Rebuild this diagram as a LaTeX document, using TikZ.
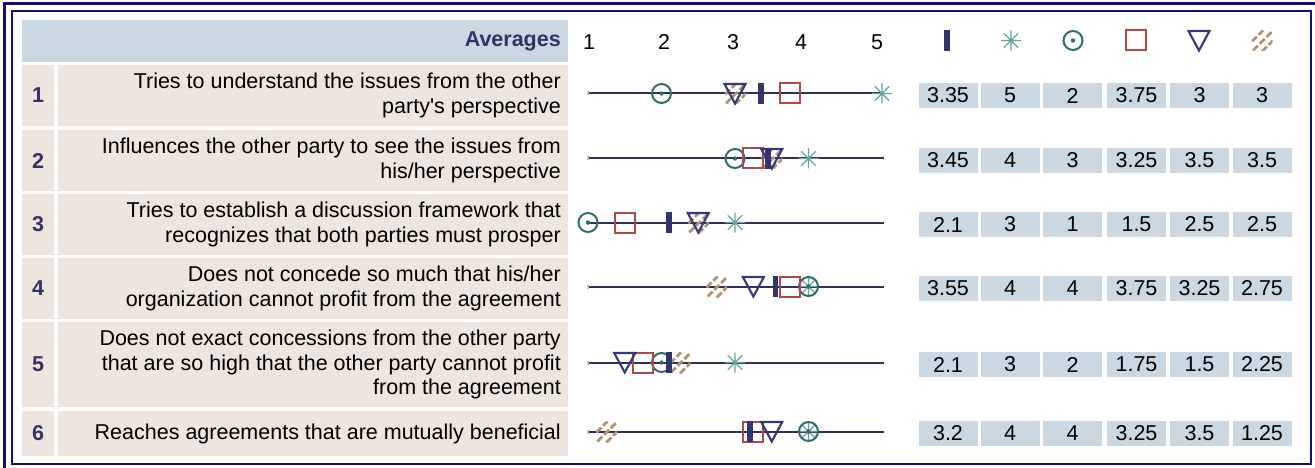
\documentclass[tikz,border=0pt]{standalone}
\usepackage{fontspec}
\setmainfont{Liberation Sans}
\definecolor{frame}{RGB}{16,16,112}
\definecolor{hdr}{RGB}{201,216,226}
\definecolor{beige}{RGB}{237,229,222}
\definecolor{navytxt}{RGB}{51,51,102}
\definecolor{rline}{RGB}{48,48,84}
\definecolor{cbar}{RGB}{51,51,110}
\definecolor{cast}{RGB}{100,165,160}
\definecolor{ccirc}{RGB}{48,110,104}
\definecolor{csq}{RGB}{176,72,72}
\definecolor{ctri}{RGB}{56,56,120}
\definecolor{chat}{RGB}{180,148,112}
\newcommand\plotrow[7]{%
  \draw[rline,line width=2] (588,#1) -- (884,#1);
  \fill[cast!60] (587,#1-2) rectangle (589,#1+2);
  \pic at ({588+(#7-1)*73.5},#1) {mkhatch};
  \pic at ({588+(#3-1)*73.5},#1) {mkast};
  \pic at ({588+(#4-1)*73.5},#1) {mkcirc};
  \pic at ({588+(#5-1)*73.5},#1) {mksq};
  \pic at ({588+(#6-1)*73.5},#1) {mktri};
  \pic at ({588+(#2-1)*73.5},#1) {mkbar};
}
\tikzset{
  mkbar/.pic={\fill[cbar] (-2.8,-10.5) rectangle (2.8,10.5);},
  mkast/.pic={\draw[cast,line width=1.3] (-10,0)--(10,0) (0,-10)--(0,10) (-7.2,-7.2)--(7.2,7.2) (-7.2,7.2)--(7.2,-7.2);},
  mkcirc/.pic={\draw[ccirc,line width=2] (0,0) circle[radius=9.5]; \fill[ccirc] (0,0) circle[radius=2.2];},
  mksq/.pic={\draw[csq,line width=2] (-10,-10) rectangle (10,10);},
  mktri/.pic={\draw[ctri,line width=2.1,line join=miter] (-10.5,-9.5) -- (10.5,-9.5) -- (0,10) -- cycle;},
  mkhatch/.pic={\begin{scope}\clip (-10.5,-10.5) rectangle (10.5,10.5);
     \draw[chat,line width=2.8,dash pattern=on 7 off 2.5] (-10,1)--(1,-10) (-9,10)--(10,-9) (0,11)--(11,0);\end{scope}},
  txt/.style={font=\fontsize{21.5}{24.7}\selectfont,inner sep=0},
  rowtxt/.style={txt,anchor=east,align=right,text=black},
  numtxt/.style={txt,font=\fontsize{21.5}{24.7}\selectfont\bfseries,text=navytxt},
  vbox/.style={txt,fill=hdr,minimum width=59pt,minimum height=25pt,text=black},
  scl/.style={txt,text=black},
}
\begin{document}
\begin{tikzpicture}[x=1pt,y=-1pt]
\useasboundingbox (0,0) rectangle (1315,468);
\fill[white] (0,0) rectangle (1315,468);
% frame
\draw[frame,line width=3] (4.5,470) -- (4.5,3.5) -- (1317,3.5);
\draw[frame,line width=2] (12,11) rectangle (1311,464);
% header
\fill[hdr] (22,20) rectangle (568,62);
\node[numtxt,anchor=east] (avg) at (561,41.5) {Averages};
\node[scl] (s1) at (589,42) {1};
\node[scl] (s2) at (664,42) {2};
\node[scl] (s3) at (733,42) {3};
\node[scl] (s4) at (801,42) {4};
\node[scl] (s5) at (877,42) {5};
\pic at (947,40.5) {mkbar};
\pic at (1011,40.5) {mkast};
\pic at (1073,40.5) {mkcirc};
\pic at (1136,40.5) {mksq};
\pic at (1199,40.5) {mktri};
\pic at (1262,40.5) {mkhatch};
% row cells
\foreach \ya/\yb in {65/126,130/191,194/255,258/319,322/407,411/456}{
  \fill[beige] (22,\ya) rectangle (54,\yb);
  \fill[beige] (58,\ya) rectangle (568,\yb);
}
\node[numtxt] (n1) at (38,95.5) {1};
\node[numtxt] (n2) at (38,160.5) {2};
\node[numtxt] (n3) at (38,224.5) {3};
\node[numtxt] (n4) at (38,288.5) {4};
\node[numtxt] (n5) at (38,364.5) {5};
\node[numtxt] (n6) at (38,433.5) {6};
\node[rowtxt] (t1) at (561,95.5) {Tries to understand the issues from the other\\party\textquotesingle s perspective};
\node[rowtxt] (t2) at (561,160.5) {Influences the other party to see the issues from\\his/her perspective};
\node[rowtxt] (t3) at (561,224.5) {Tries to establish a discussion framework that\\recognizes that both parties must prosper};
\node[rowtxt] (t4) at (561,288.5) {Does not concede so much that his/her\\organization cannot profit from the agreement};
\node[rowtxt] (t5) at (561,364.5) {Does not exact concessions from the other party\\that are so high that the other party cannot profit\\from the agreement};
\node[rowtxt] (t6) at (561,433.5) {Reaches agreements that are mutually beneficial};
% plots
\plotrow{93.5}{3.35}{5}{2}{3.75}{3}{3}
\plotrow{158.5}{3.45}{4}{3}{3.25}{3.5}{3.5}
\plotrow{222.5}{2.1}{3}{1}{1.5}{2.5}{2.5}
\plotrow{286.5}{3.55}{4}{4}{3.75}{3.25}{2.75}
\plotrow{362.5}{2.1}{3}{2}{1.75}{1.5}{2.25}
\plotrow{431.5}{3.2}{4}{4}{3.25}{3.5}{1.25}
% values
\foreach \r/\y/\a/\b/\c/\d/\e/\f in {1/95.5/3.35/5/2/3.75/3/3, 2/160.5/3.45/4/3/3.25/3.5/3.5, 3/224.5/2.1/3/1/1.5/2.5/2.5, 4/288.5/3.55/4/4/3.75/3.25/2.75, 5/364.5/2.1/3/2/1.75/1.5/2.25, 6/433.5/3.2/4/4/3.25/3.5/1.25}{
  \node[vbox] (v\r a) at (948,\y) {\a};
  \node[vbox] (v\r b) at (1010,\y) {\b};
  \node[vbox] (v\r c) at (1072.5,\y) {\c};
  \node[vbox] (v\r d) at (1136.5,\y) {\d};
  \node[vbox] (v\r e) at (1199.5,\y) {\e};
  \node[vbox] (v\r f) at (1262,\y) {\f};
}
\end{tikzpicture}
\end{document}
